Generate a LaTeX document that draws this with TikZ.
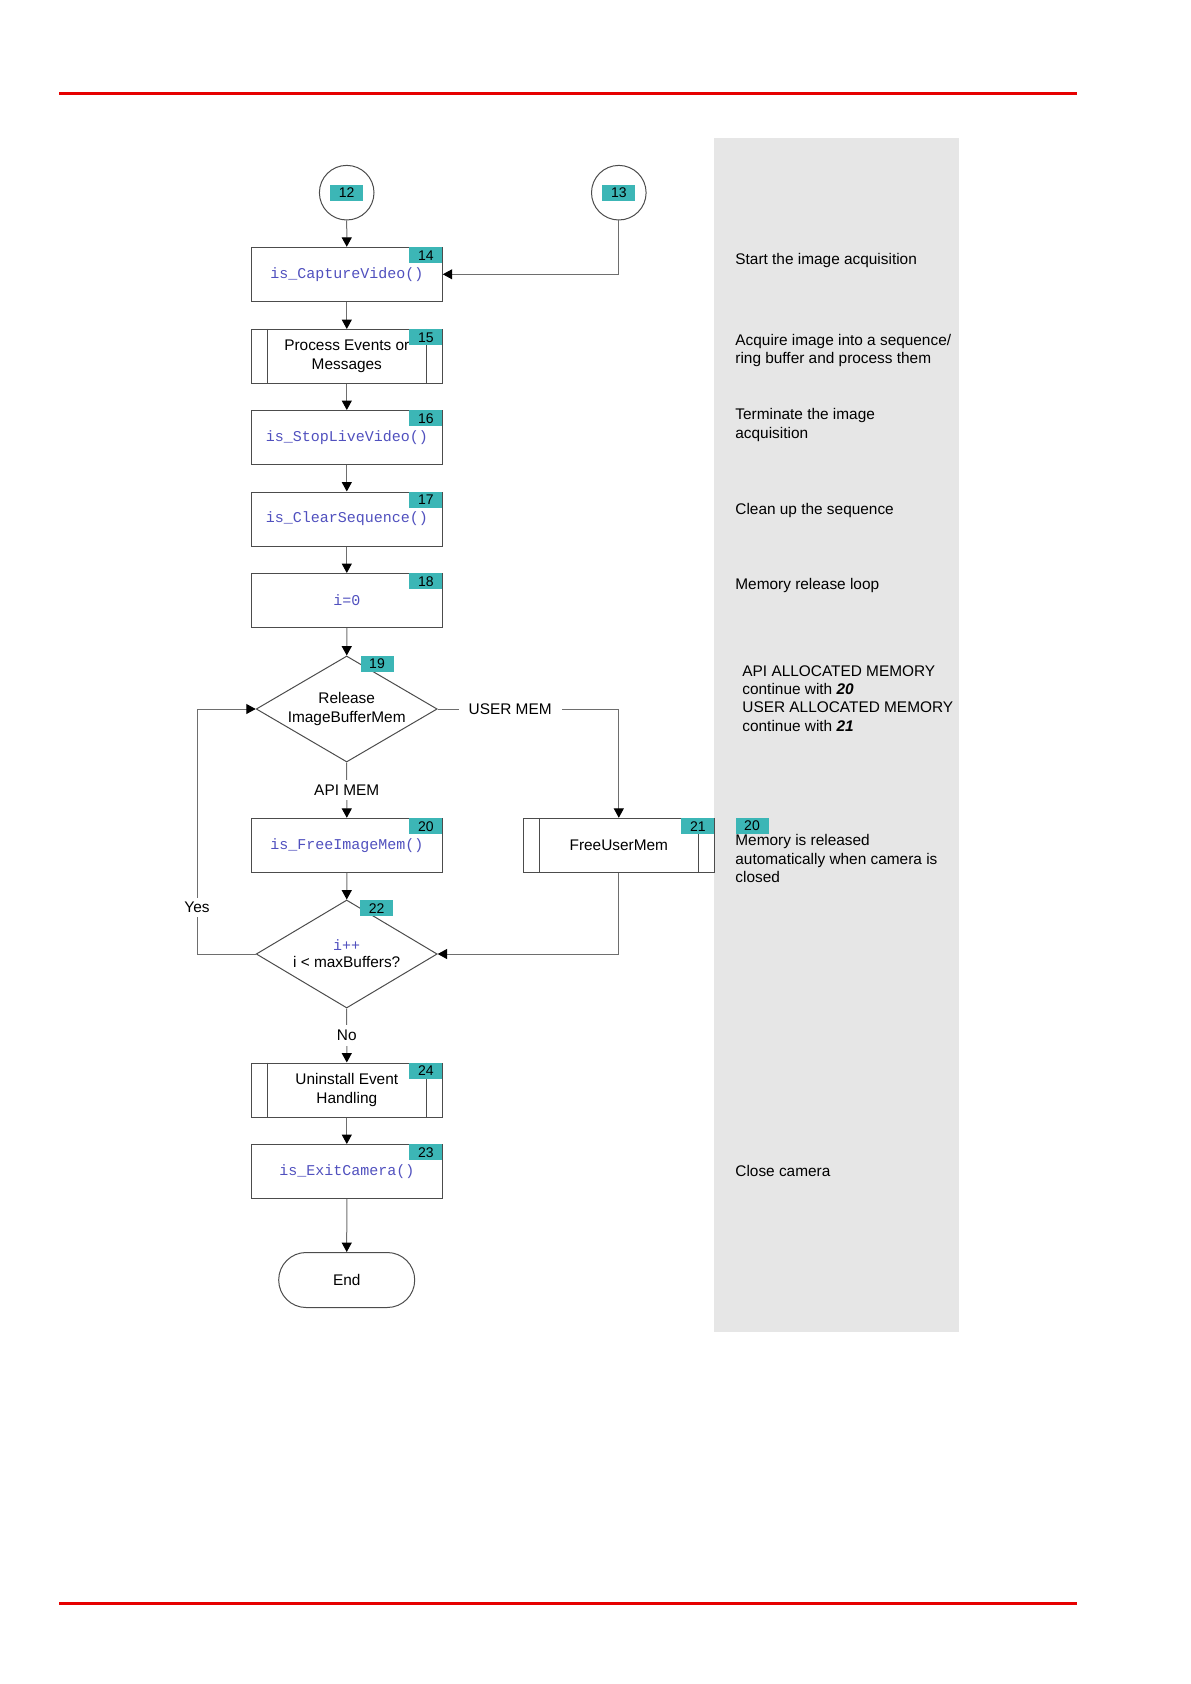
\documentclass[tikz,border=0pt]{standalone}
\usepackage{fontspec}
\setmainfont{Liberation Sans}
\setmonofont{Liberation Mono}
\usetikzlibrary{arrows.meta,shapes.geometric}
\definecolor{tealtag}{RGB}{60,182,182}
\definecolor{codeblue}{RGB}{80,80,190}
\definecolor{panelgray}{RGB}{230,230,230}
\definecolor{linegray}{RGB}{110,110,110}
\definecolor{pagered}{RGB}{230,0,0}
\newcommand\cdtext[1]{\raisebox{-0.7pt}{\ttfamily\fontsize{7.5pt}{9.2pt}\selectfont\color{codeblue}#1}}
\begin{document}
\begin{tikzpicture}[x=0.5pt,y=-0.5pt,
 every node/.style={font=\fontsize{7.7pt}{9.2pt}\selectfont, text=black},
 procbox/.style={draw=black!70, line width=0.5pt, minimum width=95.5pt, minimum height=27pt, inner sep=0pt, align=center},
 decbox/.style={diamond, draw=black!70, line width=0.5pt, minimum width=90.5pt, minimum height=54pt, inner sep=0pt, aspect=1.7, align=center},
 conncircle/.style={circle, draw=black!70, line width=0.5pt, minimum size=27.3pt, inner sep=0pt},
 numtag/.style={fill=tealtag, minimum width=16.5pt, minimum height=8pt, inner sep=0pt, font=\fontsize{7pt}{8pt}\selectfont},
 conn/.style={draw=linegray, line width=0.5pt, -{Triangle[length=4.7pt,width=5pt,color=black]}},
 lbl/.style={fill=white, inner xsep=5pt, inner ysep=2.5pt},
 note/.style={anchor=base west, inner sep=0pt},
 innerbar/.style={draw=black!70, line width=0.5pt},
]
\useasboundingbox (0,0) rectangle (1190,1684);
% page rules and side panel
\draw[pagered, line width=1.5pt] (59,94) -- (1077,94);
\draw[pagered, line width=1.5pt] (59,1603) -- (1077,1603);
\fill[panelgray] (714,138) rectangle (959,1332);

% connectors (circles)
\node[conncircle] (c12) at (346.7,192.7) {};
\node[conncircle] (c13) at (618.8,192.7) {};
\node[numtag] (t12) at (346.7,193) {12};
\node[numtag] (t13) at (618.8,193) {13};

% boxes
\node[procbox] (b14) at (346.8,274.3) {\cdtext{is\_CaptureVideo()}};
\node[procbox] (b15) at (346.8,356.5) {Process Events or\\Messages};
\node[procbox] (b16) at (346.8,437.5) {\cdtext{is\_StopLiveVideo()}};
\node[procbox] (b17) at (346.8,519) {\cdtext{is\_ClearSequence()}};
\node[procbox] (b18) at (346.8,600.5) {\cdtext{i=0}};
\node[decbox, minimum height=53pt] (d19) at (346.7,709) {Release\\ImageBufferMem};
\node[procbox] (b20) at (346.8,845.3) {\cdtext{is\_FreeImageMem()}};
\node[procbox] (b21) at (618.8,845.3) {FreeUserMem};
\node[decbox] (d22) at (346.7,954) {\cdtext{i++}\\i < maxBuffers?};
\node[procbox] (b24) at (346.8,1090) {Uninstall Event\\Handling};
\node[procbox] (b23) at (346.8,1171.5) {\cdtext{is\_ExitCamera()}};
\node[draw=black!70, line width=0.5pt, rounded corners=13.7pt, minimum width=68pt, minimum height=27.5pt, inner sep=0pt] (end) at (346.7,1280) {End};

% inner bars of predefined-process boxes
\foreach \b in {b15,b21,b24}{
  \draw[innerbar] ([xshift=8.2pt]\b.north west) -- ([xshift=8.2pt]\b.south west);
  \draw[innerbar] ([xshift=-8.3pt]\b.north east) -- ([xshift=-8.3pt]\b.south east);
}

% number tags
\foreach \b/\n in {b14/14,b15/15,b16/16,b17/17,b18/18,b20/20,b21/21,b24/24,b23/23}{
  \node[numtag, anchor=north east] (t\n) at (\b.north east) {\n};
}
\node[numtag] (t19) at (377,663.5) {19};
\node[numtag] (t22) at (376.6,908.3) {22};

% flow
\coordinate (yb) at (197,954);
\coordinate (yt) at (197,709);
\draw[conn] (c12) -- (b14);
\draw[conn] (c13.south) -- (c13.south |- b14.east) -- (b14.east);
\draw[conn] (b14) -- (b15);
\draw[conn] (b15) -- (b16);
\draw[conn] (b16) -- (b17);
\draw[conn] (b17) -- (b18);
\draw[conn] (b18) -- (d19);
\draw[conn] (d19.south) -- node[lbl]{API MEM} (b20.north);
\draw[conn] (d19.east) -- node[lbl, pos=0.40]{USER MEM} (d19.east -| b21.north) -- (b21.north);
\draw[conn] (b20) -- (d22);
\draw[conn] (b21.south) -- (b21.south |- d22.east) -- (d22.east);
\draw[conn] (d22.west) -- (yb) -- node[lbl, pos=0.19, inner ysep=2pt]{Yes} (yt) -- (d19.west);
\draw[conn] (d22.south) -- node[lbl]{No} (b24.north);
\draw[conn] (b24) -- (b23);
\draw[conn] (b23) -- (end);

% notes on the side panel
\node[note] (n1) at (735,264.5) {Start the image acquisition};
\node[note] (n2a) at (735,345.5) {Acquire image into a sequence/};
\node[note] (n2b) at (735,363.8) {ring buffer and process them};
\node[note] (n3a) at (735,420) {Terminate the image};
\node[note] (n3b) at (735,438.3) {acquisition};
\node[note] (n4) at (735,514) {Clean up the sequence};
\node[note] (n5) at (735,589.3) {Memory release loop};
\node[note] (n6a) at (742,676) {API ALLOCATED MEMORY};
\node[note] (n6b) at (742,694.3) {continue with \textbf{\textit{20}}};
\node[note] (n6c) at (742,712.6) {USER ALLOCATED MEMORY};
\node[note] (n6d) at (742,731) {continue with \textbf{\textit{21}}};
\node[numtag] (tn20) at (752,826) {20};
\node[note] (n7a) at (735,845.7) {Memory is released};
\node[note] (n7b) at (735,864) {automatically when camera is};
\node[note] (n7c) at (735,882.3) {closed};
\node[note] (n8) at (735,1176) {Close camera};
\end{tikzpicture}
\end{document}
